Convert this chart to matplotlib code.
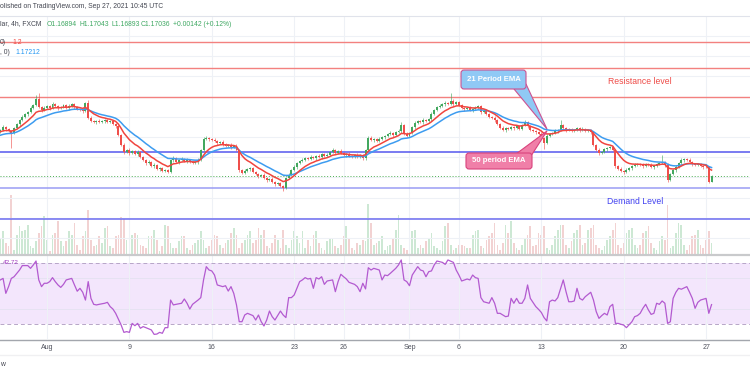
import matplotlib
matplotlib.use("Agg")
import matplotlib.pyplot as plt
import numpy as np
import pandas as pd
from matplotlib.patches import FancyBboxPatch, Polygon

plt.rcParams['font.family'] = ['Liberation Sans', 'DejaVu Sans']

# EURUSD 4h candles, closes in pips above 1.1600 (one value per candle)
close_pips = [
    217, 225, 220, 215, 210, 222, 232, 242, 250, 257,
    262, 272, 279, 294, 274, 267, 272, 277, 272, 282,
    277, 272, 274, 279, 272, 277, 282, 274, 269, 267,
    264, 284, 247, 240, 237, 240, 237, 240, 242, 237,
    240, 232, 227, 205, 180, 163, 168, 161, 165, 158,
    163, 151, 143, 136, 138, 128, 131, 121, 123, 116,
    118, 113, 143, 148, 138, 143, 146, 141, 143, 138,
    136, 138, 143, 168, 195, 198, 195, 193, 190, 185,
    188, 183, 178, 180, 175, 178, 168, 118, 111, 116,
    121, 123, 113, 109, 104, 106, 99, 94, 96, 89,
    84, 86, 79, 74, 99, 106, 118, 126, 136, 141,
    143, 148, 146, 151, 148, 153, 151, 158, 153, 156,
    163, 168, 161, 165, 161, 156, 158, 153, 151, 156,
    151, 156, 148, 168, 198, 193, 195, 190, 195, 200,
    203, 208, 210, 205, 212, 215, 230, 208, 203, 210,
    225, 235, 240, 237, 242, 240, 245, 257, 267, 274,
    277, 282, 284, 282, 289, 282, 287, 279, 272, 269,
    272, 267, 269, 272, 277, 262, 265, 258, 250, 247,
    242, 232, 222, 217, 222, 220, 225, 222, 227, 220,
    230, 237, 227, 217, 215, 212, 208, 198, 185, 203,
    208, 210, 215, 217, 230, 222, 217, 220, 215, 217,
    222, 217, 220, 215, 217, 212, 180, 168, 161, 163,
    170, 173, 175, 168, 128, 121, 116, 113, 118, 123,
    128, 131, 133, 131, 128, 133, 131, 126, 128, 133,
    136, 138, 131, 94, 109, 118, 126, 136, 143, 146,
    143, 138, 133, 131, 133, 128, 126, 125, 89, 104,
]
first_open_pips = 214

upper_wick = [
    3, 4, 2, 3, 2, 4, 3, 2, 5, 3,
    2, 4, 3, 10, 15, 3, 4, 2, 3, 5,
    2, 3, 4, 2, 3, 5, 3, 2, 4, 3,
    2, 3, 8, 4, 3, 2, 4, 3, 2, 3,
    3, 2, 4, 3, 2, 5, 3, 4, 2, 3,
    4, 2, 3, 3, 5, 2, 4, 3, 2, 3,
    2, 4, 3, 5, 2, 3, 4, 2, 5, 3,
    2, 3, 4, 3, 5, 4, 2, 3, 4, 2,
    3, 4, 2, 3, 5, 2, 4, 3, 2, 4,
    3, 2, 4, 3, 2, 3, 5, 2, 3, 4,
    2, 3, 4, 3, 2, 5, 3, 4, 2, 3,
    4, 2, 3, 5, 3, 2, 4, 3, 2, 4,
    3, 4, 2, 3, 5, 2, 3, 4, 3, 2,
    4, 3, 2, 3, 5, 4, 3, 2, 4, 3,
    2, 3, 4, 3, 2, 4, 7, 3, 4, 2,
    3, 4, 2, 3, 5, 3, 2, 4, 3, 2,
    4, 3, 5, 3, 20, 4, 3, 2, 4, 3,
    2, 4, 3, 5, 3, 2, 4, 3, 2, 3,
    4, 3, 2, 5, 3, 4, 2, 3, 4, 2,
    3, 4, 2, 3, 4, 3, 2, 4, 3, 5,
    3, 2, 4, 3, 12, 3, 4, 2, 3, 4,
    2, 3, 4, 2, 3, 4, 3, 2, 5, 3,
    4, 2, 3, 4, 3, 2, 4, 3, 5, 2,
    3, 4, 2, 3, 4, 3, 2, 5, 3, 4,
    2, 18, 3, 4, 3, 2, 4, 3, 5, 2,
    3, 4, 2, 3, 4, 3, 2, 4, 3, 1,
]
lower_wick = [
    3, 2, 4, 3, 37, 2, 3, 4, 2, 3,
    4, 2, 3, 2, 3, 4, 2, 3, 5, 2,
    3, 4, 2, 3, 2, 4, 3, 5, 2, 3,
    4, 2, 3, 3, 2, 4, 3, 2, 5, 3,
    2, 3, 4, 2, 3, 4, 2, 5, 3, 2,
    4, 3, 2, 4, 3, 2, 5, 3, 4, 3,
    2, 3, 3, 4, 2, 5, 3, 2, 4, 3,
    3, 2, 4, 3, 2, 3, 4, 2, 3, 5,
    2, 4, 3, 2, 4, 3, 2, 4, 3, 2,
    3, 4, 2, 3, 5, 2, 3, 4, 2, 3,
    4, 3, 2, 8, 3, 4, 2, 3, 5, 2,
    3, 2, 4, 3, 2, 4, 3, 5, 2, 3,
    4, 3, 2, 4, 3, 2, 5, 3, 2, 4,
    3, 2, 5, 4, 3, 2, 4, 3, 2, 3,
    4, 2, 3, 4, 3, 2, 4, 3, 2, 4,
    3, 4, 2, 3, 4, 2, 3, 5, 2, 3,
    2, 3, 4, 3, 2, 4, 3, 2, 3, 4,
    3, 2, 4, 3, 2, 5, 3, 4, 2, 3,
    4, 3, 2, 3, 4, 2, 3, 4, 3, 2,
    3, 2, 4, 3, 2, 4, 3, 2, 15, 3,
    4, 3, 2, 4, 3, 2, 4, 3, 2, 3,
    2, 4, 3, 2, 3, 4, 2, 3, 5, 2,
    3, 4, 2, 3, 4, 2, 3, 4, 2, 3,
    4, 2, 3, 2, 4, 3, 2, 3, 4, 2,
    3, 2, 4, 5, 3, 2, 4, 3, 2, 4,
    3, 2, 4, 3, 2, 3, 4, 2, 3, 0,
]

volume = [
    15, 23, 11, 8, 59, 4, 19, 28, 23, 24,
    29, 8, 6, 13, 21, 28, 38, 14, 3, 19,
    21, 33, 13, 8, 13, 23, 19, 31, 9, 4,
    18, 23, 44, 14, 8, 9, 18, 11, 26, 28,
    8, 6, 18, 19, 37, 35, 14, 8, 19, 21,
    19, 9, 8, 6, 18, 18, 24, 14, 3, 8,
    29, 28, 11, 6, 6, 13, 18, 18, 6, 4,
    9, 11, 14, 23, 14, 6, 8, 14, 19, 18,
    9, 6, 11, 14, 21, 26, 19, 6, 11, 14,
    19, 23, 11, 14, 26, 19, 24, 8, 6, 11,
    19, 14, 6, 24, 9, 6, 14, 23, 18, 11,
    23, 6, 14, 8, 19, 23, 11, 6, 4, 13,
    16, 15, 8, 6, 9, 18, 28, 16, 6, 4,
    11, 9, 14, 13, 50, 31,
    9, 11, 13, 18, 4, 8, 9, 16, 24, 39,
    9, 6, 4, 21, 23, 24, 6, 9, 6, 13,
    16, 21, 8, 6, 4, 13, 28, 31, 9, 4,
    6, 9, 9, 8, 6, 6, 19, 23, 24, 8,
    6, 14, 18, 21, 31, 9, 4, 11, 29, 21,
    33, 11, 6, 4, 9, 16, 19, 28, 8, 9,
    21, 19, 28, 6, 4, 9, 18, 24, 29, 29,
    9, 6, 13, 21, 24, 29, 9, 11, 24, 26,
    29, 9, 6, 4, 8, 14, 18, 24, 31, 9,
    6, 11, 21, 24, 26, 9, 6, 9, 21, 23,
    28, 11, 6, 4, 13, 18, 14, 49, 6, 8,
    21, 31, 29, 9, 4, 9, 18, 19, 24, 9,
    6, 14, 23, 11,
]

# RSI(14): candle index and value
rsi_idx = [0, 1, 2, 3, 4, 5, 7, 8, 10, 11, 12, 13, 14, 15, 16, 17, 18, 19, 20, 21,
           22, 23, 24, 26, 27, 28, 29, 30, 31, 32, 33, 34, 35, 36, 38, 39, 40, 41, 42, 44,
           45, 46, 47, 48, 49, 50, 51, 52, 53, 55, 56, 57, 58, 59, 60, 61, 62, 63, 64, 66,
           67, 68, 69, 70, 72, 73, 74, 75, 76, 77, 78, 79, 81, 82, 83, 84, 85, 86, 87, 88,
           89, 90, 92, 93, 94, 95, 96, 97, 98, 99, 100, 101, 102, 103, 104, 105, 106, 107, 108, 109,
           110, 111, 112, 113, 114, 115, 116, 117, 118, 119, 121, 122, 123, 124, 125, 126, 127, 129, 130, 131,
           132, 133, 134, 135, 136, 138, 139, 140, 141, 142, 144, 145, 146, 147, 148, 149, 150, 152, 153, 154,
           155, 156, 157, 158, 159, 161, 162, 163, 165, 166, 167, 168, 170, 171, 172, 173, 174, 175, 176, 178,
           179, 180, 181, 182, 183, 184, 185, 186, 187, 188, 189, 190, 191, 192, 193, 195, 196, 197, 198, 199,
           200, 201, 202, 203, 205, 206, 207, 208, 209, 210, 211, 212, 213, 215, 216, 217, 218, 219, 220, 221,
           222, 223, 224, 225, 226, 227, 228, 230, 231, 232, 233, 234, 235, 236, 237, 238, 239, 240, 241, 242,
           243, 244, 245, 246, 247, 248, 250, 251, 252, 253, 254, 255, 257, 258, 259]
rsi_val = [58.9, 59.9, 50.1, 54.5, 59.9, 61.0, 65.4, 68.3, 68.3, 66.5, 68.7, 71.3, 58.9, 54.5, 56.7, 56.7, 57.8, 60.4, 57.8, 55.6,
           54.0, 56.0, 58.9, 59.9, 55.6, 51.5, 53.4, 50.8, 45.7, 57.8, 46.8, 42.9, 42.5, 42.9, 43.6, 44.2, 41.4, 39.8, 37.0, 29.3,
           24.5, 25.0, 24.5, 30.4, 28.9, 30.4, 27.2, 28.3, 27.6, 26.1, 23.2, 23.4, 24.5, 23.9, 27.6, 27.6, 45.7, 42.5, 42.9, 43.6,
           46.4, 43.6, 39.8, 42.9, 45.7, 47.3, 58.9, 67.6, 65.4, 64.8, 62.1, 55.6, 54.5, 55.1, 51.6, 54.5, 50.1, 42.5, 31.5, 31.5,
           35.9, 37.0, 35.5, 32.6, 35.9, 31.5, 28.7, 32.6, 38.5, 34.8, 32.6, 35.5, 38.5, 35.9, 34.2, 47.3, 47.3, 49.0, 53.4, 57.8,
           58.9, 60.4, 59.5, 59.9, 53.4, 60.4, 59.5, 61.0, 56.0, 58.2, 58.9, 51.2, 57.8, 62.6, 61.0, 59.5, 57.3, 56.0, 54.5, 51.2,
           56.7, 53.0, 66.9, 65.4, 66.5, 65.4, 58.9, 62.1, 61.7, 63.2, 66.5, 68.7, 72.0, 58.9, 57.8, 55.1, 62.1, 67.6, 65.4, 64.8,
           61.0, 64.3, 64.8, 68.7, 71.3, 70.4, 69.1, 72.0, 70.4, 65.4, 62.1, 58.2, 59.5, 58.9, 62.1, 60.4, 59.9, 47.3, 44.6, 43.6,
           47.3, 43.6, 37.0, 37.0, 35.9, 34.8, 35.2, 46.8, 43.6, 46.8, 43.6, 43.6, 46.8, 55.6, 46.8, 41.4, 39.6, 37.6, 34.2, 32.0,
           44.6, 45.7, 45.1, 47.3, 58.9, 51.2, 44.6, 44.6, 45.1, 53.4, 46.8, 45.7, 47.9, 50.8, 45.7, 38.1, 33.7, 35.5, 37.0, 35.9,
           41.4, 42.9, 30.4, 30.4, 29.8, 29.3, 27.6, 31.5, 34.8, 35.5, 37.0, 40.3, 42.9, 39.2, 36.3, 37.0, 43.6, 42.9, 45.1, 43.6,
           30.4, 31.5, 46.8, 50.8, 53.4, 52.8, 54.5, 50.8, 46.8, 40.3, 44.2, 45.7, 46.8, 37.0, 42.72]

date_idx = [17, 47, 77, 107, 125, 149, 167, 197, 227, 257]
date_lab = ["Aug", "9", "16", "23", "26", "Sep", "6", "13", "20", "27"]

resistance = [1.2035, 1.1971, 1.1899]
support = [1.1763, 1.1674, 1.1597]
support_colors = ['#5557ee', '#9a9cf4', '#6c6df0']
last_close = 1.17036
# moving-average spans that match how the two lines follow price on the chart
fast_span, slow_span = 9, 18
fast_seed, slow_seed = 1.1812, 1.1803

UP, DOWN = '#43a85f', '#ef4f4b'
W, H = 750, 375

c = 1.16 + np.array(close_pips) / 1e4
o = np.r_[1.16 + first_open_pips / 1e4, c[:-1]]
hi = np.maximum(o, c) + np.array(upper_wick) / 1e4
lo = np.minimum(o, c) - np.array(lower_wick) / 1e4
k = np.arange(len(c))
rising = c >= o
cols = np.where(rising, UP, DOWN)
vcols = np.where(rising, '#cde8d4', '#f2d2d2')

ema_fast = pd.Series(np.r_[fast_seed, c]).ewm(span=fast_span, adjust=False).mean().values[1:]
ema_slow = pd.Series(np.r_[slow_seed, c]).ewm(span=slow_span, adjust=False).mean().values[1:]

fig = plt.figure(figsize=(W / 100, H / 100), dpi=100)
fig.patch.set_facecolor('white')


def box(top, bottom):
    return [0, 1 - bottom / H, 1, (bottom - top) / H]


xlim = (-0.12, 273.0)
grid_c = '#eef1f6'

# main pane
ax = fig.add_axes(box(16, 254))
axv = ax.twinx()
axv.set_zorder(1)
ax.set_zorder(2)
ax.patch.set_visible(False)
axv.bar(k, volume, width=0.62, color=vcols, linewidth=0)
axv.set_ylim(0, 238)
axv.set_xlim(*xlim)
axv.axis('off')

for p in np.arange(1.155, 1.2051, 0.005):
    ax.axhline(p, color=grid_c, lw=0.8, zorder=0)
for d in date_idx:
    ax.axvline(d, color=grid_c, lw=0.8, zorder=0)

for p in resistance:
    ax.axhline(p, color='#f3817f', lw=1.0, zorder=1)
for p, col in zip(support, support_colors):
    ax.axhline(p, color=col, lw=1.1, zorder=1)
ax.axhline(last_close, color='#4caf50', lw=0.7, ls=(0, (1, 2)), zorder=1)

ax.vlines(k, lo, hi, colors=cols, lw=0.6, alpha=0.7, zorder=3)
ax.bar(k, np.maximum(np.abs(c - o), 0.00008), bottom=np.minimum(o, c),
       width=0.72, color=cols, linewidth=0, zorder=3)
ax.plot(k, ema_slow, color='#3d9cf0', lw=1.1, zorder=4)
ax.plot(k, ema_fast, color='#f0453f', lw=1.1, zorder=4)

ax.set_xlim(*xlim)
ax.set_ylim(1.15106, 1.20996)
ax.set_xticks([])
ax.set_yticks([])
for s in ax.spines.values():
    s.set_visible(False)

# RSI pane
ar = fig.add_axes(box(256, 339))
ar.axhspan(30, 70, color='#f3e6fc', lw=0, zorder=0)
for v in (60, 40):
    ar.axhline(v, color='#e6e2f2', lw=0.7, zorder=0)
for d in date_idx:
    ar.axvline(d, color=grid_c, lw=0.8, zorder=0)
for v in (70, 30):
    ar.axhline(v, color='#b7a6c8', lw=0.7, ls=(0, (4, 3)), zorder=1)
ar.plot(rsi_idx, rsi_val, color='#b35ad0', lw=0.9, zorder=2)
ar.set_xlim(*xlim)
ar.set_ylim(20.16, 74.59)
ar.set_yticks([])
ar.set_xticks(date_idx)
ar.set_xticklabels(date_lab)
ar.tick_params(axis='x', length=0, pad=3.5, labelsize=5, labelcolor='#50535e')
for s in ar.spines.values():
    s.set_visible(False)

# overlay for borders, legend texts and callouts (pixel coordinates)
ov = fig.add_axes([0, 0, 1, 1], zorder=10)
ov.set_xlim(0, W)
ov.set_ylim(H, 0)
ov.axis('off')
ov.patch.set_visible(False)

ov.plot([0, W], [16, 16], color='#e0e3eb', lw=0.8)
ov.plot([0, W], [255, 255], color='#c9cacc', lw=1.6)
ov.plot([0, W], [339.5, 339.5], color='#a3a6ad', lw=1.0)
ov.plot([0, W], [355, 355], color='#f0f0f2', lw=1.0)

dark = '#434651'
green_t = '#3fa862'
fs = 4.9
ov.text(0, 7, "olished on TradingView.com, Sep 27, 2021 10:45 UTC", fontsize=fs, color=dark, va='center')
ov.text(0, 24, "lar, 4h, FXCM", fontsize=fs, color=dark, va='center')
for x, s in [(47, "O1.16894"), (79, "H1.17043"), (111, "L1.16893"),
             (141, "C1.17036"), (173, "+0.00142 (+0.12%)")]:
    ov.text(x, 24, s, fontsize=fs, color=green_t, va='center')
ov.text(0, 42, "0)", fontsize=fs, color=dark, va='center')
ov.text(12, 42, "1.2", fontsize=fs, color='#f0453f', va='center')
ov.text(0, 53, ", 0)", fontsize=fs, color=dark, va='center')
ov.text(15, 53, "1.17212", fontsize=fs, color='#2196f3', va='center')
ov.text(3, 263, "42.72", fontsize=4.6, color='#a13cc0', va='center')
ov.text(0, 365, "w", fontsize=fs, color=dark, va='center')

ov.text(640, 82, "Resistance level", fontsize=6.2, color='#ee4b47', ha='center', va='center')
ov.text(635, 201, "Demand Level", fontsize=6.2, color='#3f3ff0', ha='center', va='center')

# 21 period callout
ov.add_patch(Polygon([(514, 89), (526, 84), (547, 129)], closed=True,
                     fc='#90c9f5', ec='#cc5291', lw=0.8, zorder=1))
ov.add_patch(FancyBboxPatch((461, 70), 65, 19, boxstyle='round,pad=0,rounding_size=3',
                            fc='#90c9f5', ec='#cc5291', lw=0.8, zorder=2))
ov.text(493.5, 79.5, "21 Period EMA", fontsize=5.6, color='white', fontweight='bold',
        ha='center', va='center', zorder=3)

# 50 period callout
ov.add_patch(Polygon([(516, 154), (531, 156), (547, 131)], closed=True,
                     fc='#f07fa8', ec='#d9427c', lw=0.8, zorder=1))
ov.add_patch(FancyBboxPatch((466, 153), 66, 16, boxstyle='round,pad=0,rounding_size=3',
                            fc='#f07fa8', ec='#d9427c', lw=0.8, zorder=2))
ov.text(499, 161, "50 period EMA", fontsize=5.6, color='white', fontweight='bold',
        ha='center', va='center', zorder=3)

fig.savefig("out.png", dpi=100, facecolor='white')
